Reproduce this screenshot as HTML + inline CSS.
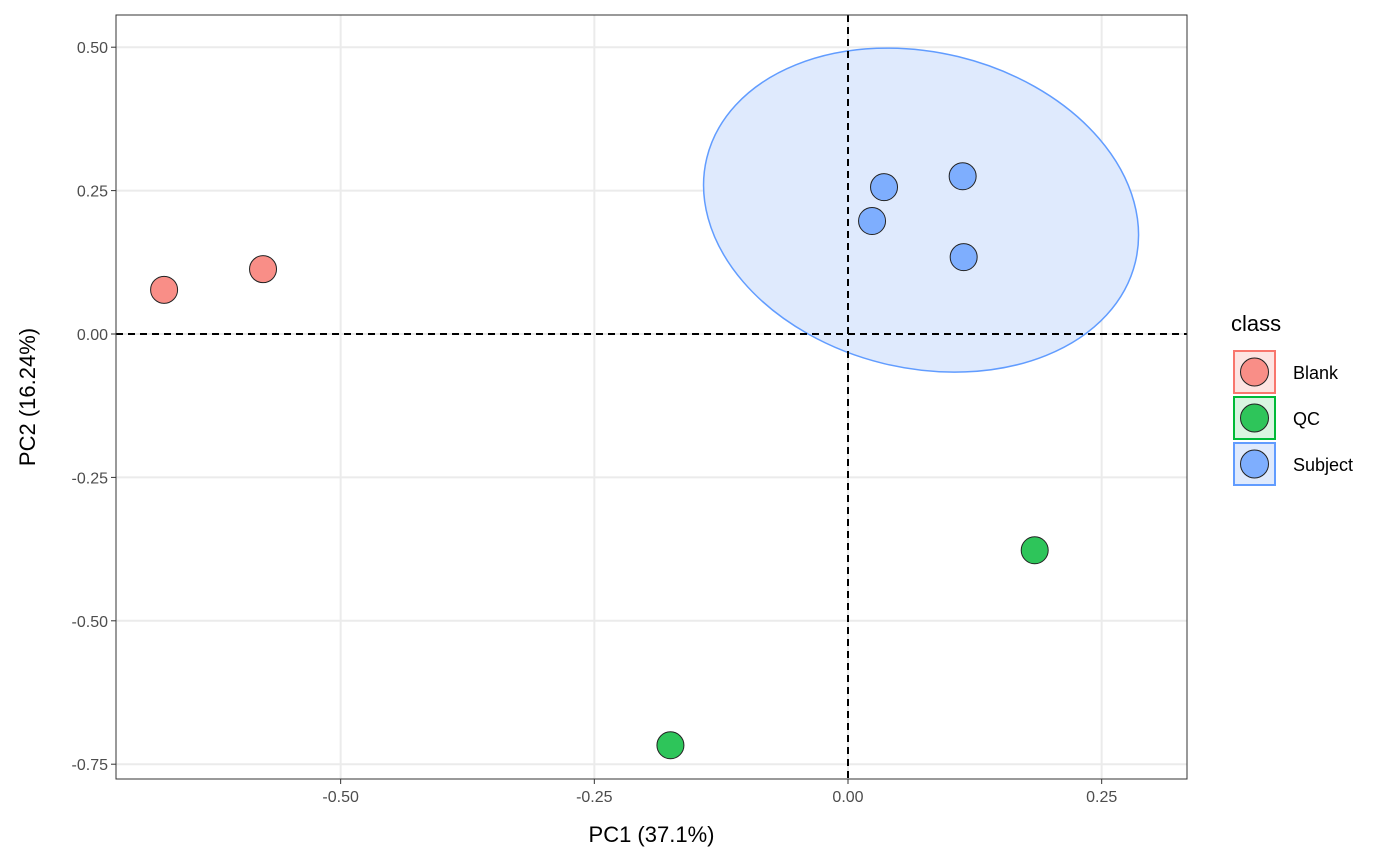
<!DOCTYPE html>
<html><head><meta charset="utf-8"><style>
body{margin:0;background:#fff;}
svg{display:block;font-family:"Liberation Sans",Arial,sans-serif;}
</style></head><body>
<svg id="chart" width="1400" height="865"></svg>
<script>
const xTicks=[-0.5,-0.25,0,0.25];
const xTickLabels=["-0.50","-0.25","0.00","0.25"];
const yTicks=[0.5,0.25,0,-0.25,-0.5,-0.75];
const yTickLabels=["0.50","0.25","0.00","-0.25","-0.50","-0.75"];
const classes=["Blank","QC","Subject"];
const pointClass=["Blank","Blank","QC","QC","Subject","Subject","Subject","Subject"];
const pc1=[-0.674,-0.5765,0.184,-0.175,0.0355,0.113,0.0237,0.114];
const pc2=[0.077,0.113,-0.377,-0.717,0.256,0.275,0.197,0.134];
const ellipseCenter=[0.072,0.216];

const L=116,R=1187,T=15,B=779;
const X=v=>848+v*1014.7;
const Y=v=>334-v*573.6;
const fills={Blank:"#f98e87",QC:"#2ec55a",Subject:"#7eaefe"};
const strokes={Blank:"#F8766D",QC:"#00BA38",Subject:"#619CFF"};
const bg={Blank:"#fde4e2",QC:"#d9f5e1",Subject:"#dfeafd"};
const svg=document.getElementById('chart');
const NS="http://www.w3.org/2000/svg";
function mk(tag,attrs,parent){const e=document.createElementNS(NS,tag);for(const k in attrs)e.setAttribute(k,attrs[k]);(parent||svg).appendChild(e);return e;}

xTicks.forEach((v,i)=>{
 const l=mk('line',{x1:X(v),x2:X(v),y1:T,y2:B,stroke:"#ebebeb","stroke-width":2});
 
 
 const t=mk('line',{x1:X(v),x2:X(v),y1:B,y2:B+5,stroke:"#333","stroke-width":1});
 
 
 const tx=mk('text',{x:X(v),y:B+23,"text-anchor":"middle","font-size":16,fill:"#4d4d4d"});
 tx.textContent=xTickLabels[i];
 
 
});
yTicks.forEach((v,i)=>{
 const l=mk('line',{x1:L,x2:R,y1:Y(v),y2:Y(v),stroke:"#ebebeb","stroke-width":2});
 
 
 const t=mk('line',{x1:L-5,x2:L,y1:Y(v),y2:Y(v),stroke:"#333","stroke-width":1});
 
 
 const tx=mk('text',{x:L-8,y:Y(v)+6,"text-anchor":"end","font-size":16,fill:"#4d4d4d"});
 tx.textContent=yTickLabels[i];
 
 
});
const el=mk('ellipse',{cx:0,cy:0,rx:220.5,ry:157.9,fill:"#dfeafd",stroke:"#619CFF","stroke-width":1.5,transform:`translate(${X(ellipseCenter[0])},${Y(ellipseCenter[1])}) rotate(13.65)`});


const hl=mk('line',{x1:L,x2:R,y1:Y(0),y2:Y(0),stroke:"#000","stroke-width":2,"stroke-dasharray":"7,5"});


const vl=mk('line',{x1:X(0),x2:X(0),y1:T,y2:B,stroke:"#000","stroke-width":2,"stroke-dasharray":"7,5"});


pc1.forEach((v,i)=>{
 const c=mk('circle',{cx:X(v),cy:Y(pc2[i]),r:13.5,fill:fills[pointClass[i]],stroke:"#222","stroke-width":1});
 
 
});
const pb=mk('rect',{x:L,y:T,width:R-L,height:B-T,fill:"none",stroke:"#333","stroke-width":1});


const xt=mk('text',{x:(L+R)/2,y:842,"text-anchor":"middle","font-size":22,fill:"#000"});
xt.textContent="PC1 (37.1%)";


const yt=mk('text',{x:0,y:0,"text-anchor":"middle","font-size":22,fill:"#000",transform:`translate(35,${(T+B)/2}) rotate(-90)`});
yt.textContent="PC2 (16.24%)";


const lt=mk('text',{x:1231,y:331,"font-size":22,fill:"#000"});
lt.textContent="class";


classes.forEach((c,i)=>{
 const y0=351+i*46;
 const g=mk('g',{});
 
 
 mk('rect',{x:1234,y:y0,width:41,height:42,fill:bg[c],stroke:strokes[c],"stroke-width":2},g);
 mk('circle',{cx:1254.5,cy:y0+21,r:14,fill:fills[c],stroke:"#222","stroke-width":1},g);
 const t=mk('text',{x:1293,y:y0+28,"font-size":18,fill:"#000"},g);
 t.textContent=c;
});
</script>
</body></html>
